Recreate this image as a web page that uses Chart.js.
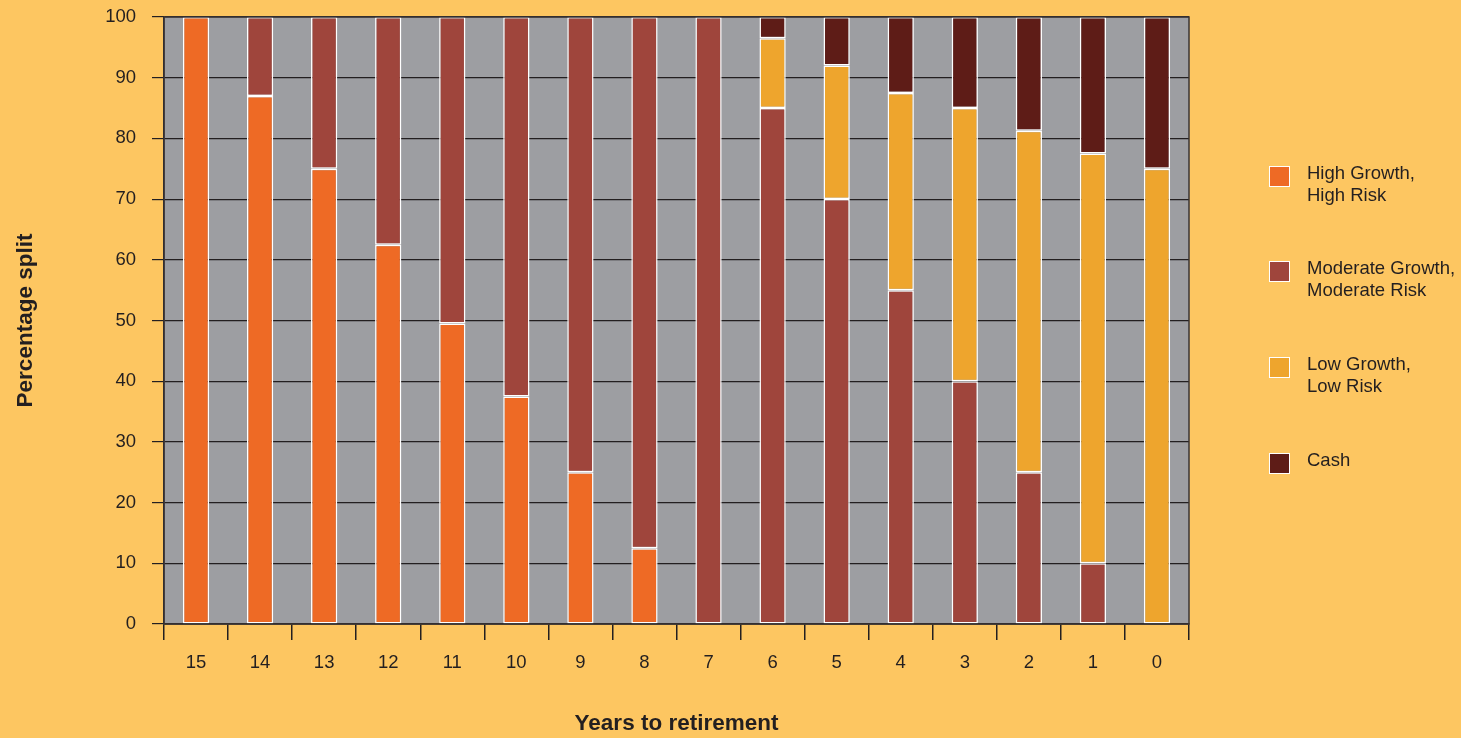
<!DOCTYPE html>
<html>
<head>
<meta charset="utf-8">
<script src="https://cdn.jsdelivr.net/npm/chart.js@4/dist/chart.umd.min.js"></script>
<style>
  html, body { margin: 0; padding: 0; background: #fdc661; }
  #wrap { position: relative; width: 1461px; height: 738px; }
  #legend { position: absolute; left: 1269px; top: 0; font-family: "Liberation Sans", Arial, sans-serif; font-size: 18.5px; color: #231f20; }
  .item { position: absolute; left: 0; width: 200px; }
  .box { position: absolute; left: 0; top: 0; width: 19px; height: 19px; border: 1.5px solid #fff; }
  .txt { position: absolute; left: 38px; top: -4px; line-height: 21.5px; white-space: nowrap; }
</style>
</head>
<body>
<div id="wrap">
  <canvas id="chart" width="1461" height="738"></canvas>
  <div id="legend"></div>
</div>
<script>
const years = ['15', '14', '13', '12', '11', '10', '9', '8', '7', '6', '5', '4', '3', '2', '1', '0']
const highGrowth = [100, 87, 75, 62.5, 49.5, 37.5, 25, 12.5, 0, 0, 0, 0, 0, 0, 0, 0]
const moderateGrowth = [0, 13, 25, 37.5, 50.5, 62.5, 75, 87.5, 100, 85, 70, 55, 40, 25, 10, 0]
const lowGrowth = [0, 0, 0, 0, 0, 0, 0, 0, 0, 11.5, 22, 32.5, 45, 56.25, 67.5, 75]
const cash = [0, 0, 0, 0, 0, 0, 0, 0, 0, 3.5, 8, 12.5, 15, 18.75, 22.5, 25]
const yTicks = [0, 10, 20, 30, 40, 50, 60, 70, 80, 90, 100]

const seriesNames = [['High Growth,', 'High Risk'], ['Moderate Growth,', 'Moderate Risk'], ['Low Growth,', 'Low Risk'], ['Cash']]
const seriesColors = ['#ee6a25', '#9f453c', '#eea52d', '#5e1c17']
const seriesData = [highGrowth, moderateGrowth, lowGrowth, cash]

const textColor = '#231f20'
const font = 'Liberation Sans, Arial, sans-serif'

// grey plot area + frame
const plotBg = {
    id: 'plotBg',
    beforeDraw(chart) {
        const a = chart.chartArea
        const ctx = chart.ctx
        ctx.save()
        ctx.fillStyle = '#9d9ea2'
        ctx.fillRect(a.left, a.top, a.right - a.left, a.bottom - a.top)
        ctx.restore()
    },
    afterDraw(chart) {
        const a = chart.chartArea
        const ctx = chart.ctx
        ctx.save()
        ctx.strokeStyle = '#3a3535'
        ctx.lineWidth = 1.5
        ctx.strokeRect(a.left, a.top, a.right - a.left, a.bottom - a.top)
        ctx.restore()
    }
}

const datasets = seriesData.map((d, i) => ({
    label: seriesNames[i].join(' '),
    data: d,
    backgroundColor: seriesColors[i],
    borderColor: '#ffffff',
    borderWidth: 1.5,
    borderSkipped: false,
    barPercentage: 0.41,
    categoryPercentage: 1
}))

new Chart(document.getElementById('chart'), {
    type: 'bar',
    data: { labels: years, datasets: datasets },
    options: {
        responsive: false,
        animation: false,
        layout: { padding: { top: 17, right: 272, bottom: 1, left: 12 } },
        plugins: { legend: { display: false }, tooltip: { enabled: false } },
        scales: {
            x: {
                stacked: true,
                afterFit: scale => { scale.height = 113 },
                grid: { offset: true, drawOnChartArea: false, color: textColor, lineWidth: 1.5, tickLength: 16 },
                border: { color: textColor, width: 1.5 },
                ticks: { color: textColor, font: { family: font, size: 18.5 }, padding: 12 },
                title: { display: true, text: 'Years to retirement', color: textColor, font: { family: font, size: 22.5, weight: 'bold' }, padding: 0 }
            },
            y: {
                stacked: true,
                min: 0,
                max: 100,
                z: 1,
                afterFit: scale => { scale.width = 152; scale.paddingTop = 0; scale.paddingBottom = 0 },
                afterBuildTicks: scale => { scale.ticks = yTicks.map(v => ({ value: v })) },
                grid: { color: textColor, lineWidth: 1.2, tickLength: 12 },
                border: { color: textColor, width: 1.5 },
                ticks: { color: textColor, font: { family: font, size: 18.5 }, padding: 16 },
                title: { display: true, text: 'Percentage split', color: textColor, font: { family: font, size: 22.5, weight: 'bold' }, padding: 0 }
            }
        }
    },
    plugins: [plotBg]
})

// legend on the right
const legend = document.getElementById('legend')
const legendTops = [166, 261, 357, 453]
seriesNames.forEach((name, i) => {
    const item = document.createElement('div')
    item.className = 'item'
    item.style.top = legendTops[i] + 'px'
    item.innerHTML = `<div class="box" style="background:${seriesColors[i]}"></div><div class="txt">${name.join('<br>')}</div>`
    legend.append(item)
})
</script>
</body>
</html>
